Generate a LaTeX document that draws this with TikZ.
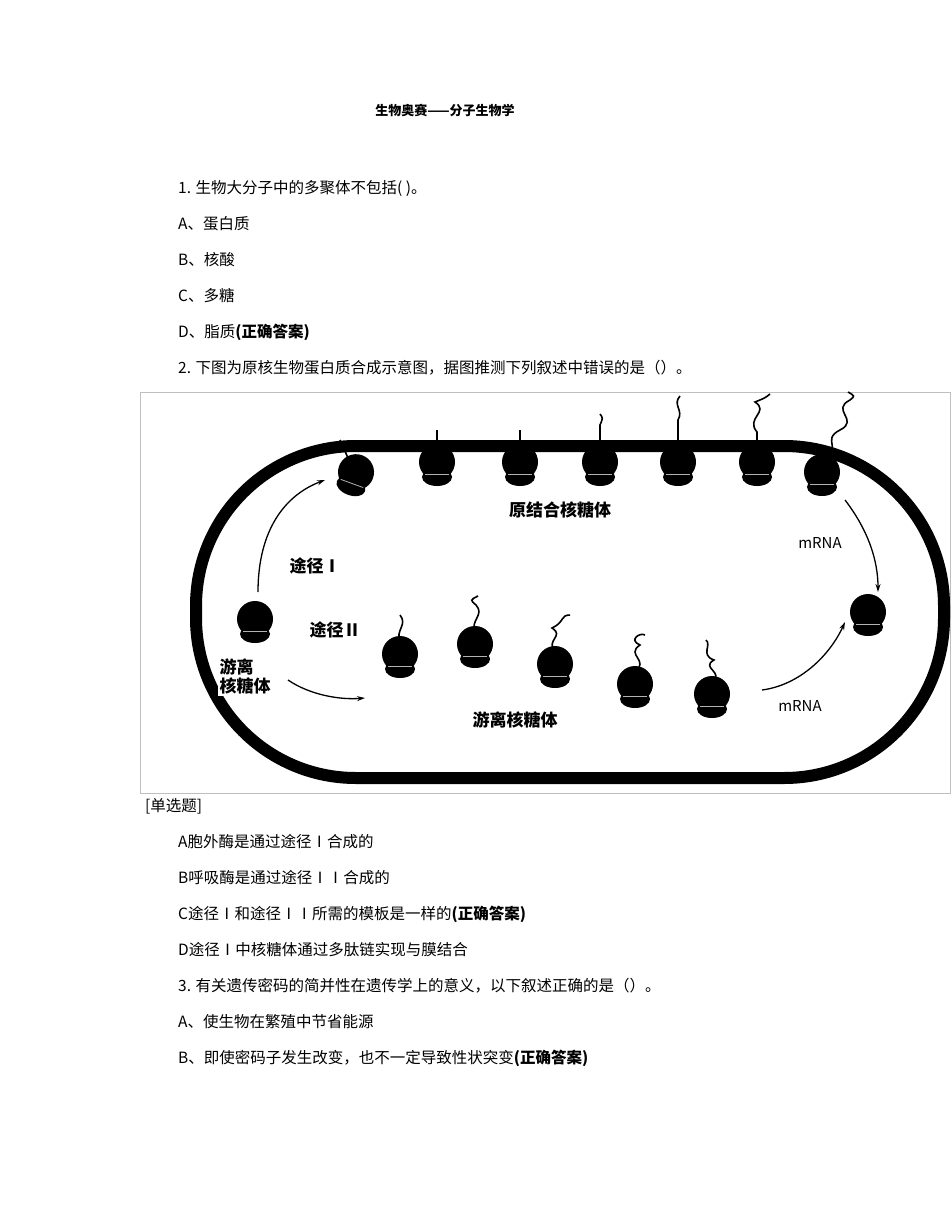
\documentclass[tikz,border=0pt]{standalone}
\usepackage{fontspec}
\setmainfont{Noto Sans CJK SC}
\newfontfamily\cjk{Noto Sans CJK SC}
\usetikzlibrary{arrows.meta}
\tikzset{
 txt/.style={anchor=west,inner sep=0pt,font=\fontsize{15.5}{17}\selectfont},
 lab/.style={inner sep=0pt,font=\fontsize{17}{19}\bfseries\selectfont},
 arr/.style={line width=1.3pt,-{Stealth[length=8pt,width=5pt]}},
 chain/.style={line width=1.6pt},
}
\newcommand{\ribo}[3]{% name, x, y
 \begin{scope}[shift={(#2,#3)}]
 \fill[black] (0,9) ellipse (15 and 9);
 \fill[black] (0,-6) circle (18);
 \draw[gray!60,line width=0.8pt] (-12,6) -- (12,6);
 \coordinate (#1) at (0,-6);
 \end{scope}}
\begin{document}
\begin{tikzpicture}[x=1pt,y=-1pt]
\useasboundingbox (0,0) rectangle (950,1230);
\fill[white] (0,0) rectangle (950,1230);
\node[inner sep=0pt,font=\fontsize{13}{15}\bfseries\selectfont] (title) at (445,110) {生物奥赛——分子生物学};
\node[txt] (q1) at (178,188) {1. 生物大分子中的多聚体不包括( )。};
\node[txt] (q1a) at (178,224) {A、蛋白质};
\node[txt] (q1b) at (178,260) {B、核酸};
\node[txt] (q1c) at (178,296) {C、多糖};
\node[txt] (q1d) at (178,332) {D、脂质\textbf{(正确答案)}};
\node[txt] (q2) at (178,368) {2. 下图为原核生物蛋白质合成示意图，据图推测下列叙述中错误的是（）。};
% figure frame
\draw[gray!50,line width=0.6pt] (140,392) rectangle (950,793);
\node[draw=black,line width=12pt,rounded corners=160pt,minimum width=748pt,minimum height=332pt,inner sep=0pt] (cell) at (570,612) {};
% membrane-bound ribosomes
\begin{scope}[rotate around={-20:(355,475)}]\ribo{r1}{355}{478}\end{scope}
\draw[chain] (348,458) -- (340,440);
\ribo{r2}{437}{468}
\ribo{r3}{520}{468}
\ribo{r4}{600}{468}
\ribo{r5}{678}{468}
\ribo{r6}{757}{468}
\ribo{r7}{822}{478}
\draw[chain] (437,450) -- (437,430);
\draw[chain] (520,450) -- (520,430);
\draw[chain] (600,450) -- (600,425) .. controls (603,418) .. (600,414);
\draw[chain] (678,450) -- (678,420) .. controls (684,410) and (672,405) .. (680,396);
\draw[chain] (757,450) -- (757,432) .. controls (745,418) and (770,412) .. (755,402) .. controls (765,398) .. (770,394);
\draw[chain] (822,460) .. controls (845,450) and (820,440) .. (840,430) .. controls (860,420) and (830,410) .. (850,400) .. controls (855,396) .. (848,392);
% free ribosomes
\ribo{f0}{255}{625}
\ribo{f1}{400}{660}
\ribo{f2}{475}{650}
\ribo{f3}{555}{670}
\ribo{f4}{635}{690}
\ribo{f5}{712}{700}
\ribo{f6}{868}{618}
\draw[chain] (400,642) .. controls (395,630) and (408,625) .. (400,615);
\draw[chain] (475,632) .. controls (470,620) and (485,615) .. (476,605) .. controls (470,600) .. (478,596);
\draw[chain] (555,652) .. controls (545,640) and (565,636) .. (552,628) .. controls (565,622) and (560,615) .. (570,615);
\draw[chain] (635,672) .. controls (650,660) and (625,655) .. (640,645) .. controls (628,640) and (640,632) .. (645,635);
\draw[chain] (712,682) .. controls (725,672) and (700,668) .. (714,660) .. controls (700,655) and (712,645) .. (706,640);
% labels
\node[lab] (l1) at (560,510) {原结合核糖体};
\node[lab] (l2) at (315,566) {途径Ⅰ};
\node[lab] (l3) at (335,630) {途径Ⅱ};
\node[lab,align=left,fill=white,inner sep=2pt] (l4) at (245,676) {游离\\核糖体};
\node[lab] (l5) at (515,720) {游离核糖体};
\node[lab,font=\fontsize{15}{17}\selectfont] (m1) at (820,543) {mRNA};
\node[lab,font=\fontsize{15}{17}\selectfont] (m2) at (800,706) {mRNA};
\coordinate (a1s) at (258,592); \coordinate (a1e) at (325,480);
\coordinate (a2s) at (288,680); \coordinate (a2e) at (365,698);
\coordinate (a3s) at (845,500); \coordinate (a3e) at (878,592);
\coordinate (a4s) at (762,690); \coordinate (a4e) at (845,622);
\draw[arr] (a1s) .. controls (258,530) and (285,495) .. (a1e);
\draw[arr] (a2s) .. controls (310,695) and (340,700) .. (a2e);
\draw[arr] (a3s) .. controls (868,530) and (878,560) .. (a3e);
\draw[arr] (a4s) .. controls (800,685) and (830,655) .. (a4e);
% questions continued
\node[txt] (t0) at (145,806) {[单选题]};
\node[txt] (q2a) at (178,842) {A胞外酶是通过途径Ⅰ合成的};
\node[txt] (q2b) at (178,878) {B呼吸酶是通过途径ⅠⅠ合成的};
\node[txt] (q2c) at (178,914) {C途径Ⅰ和途径ⅠⅠ所需的模板是一样的\textbf{(正确答案)}};
\node[txt] (q2d) at (178,950) {D途径Ⅰ中核糖体通过多肽链实现与膜结合};
\node[txt] (q3) at (178,986) {3. 有关遗传密码的简并性在遗传学上的意义，以下叙述正确的是（）。};
\node[txt] (q3a) at (178,1022) {A、使生物在繁殖中节省能源};
\node[txt] (q3b) at (178,1058) {B、即使密码子发生改变，也不一定导致性状突变\textbf{(正确答案)}};
\end{tikzpicture}
\end{document}
